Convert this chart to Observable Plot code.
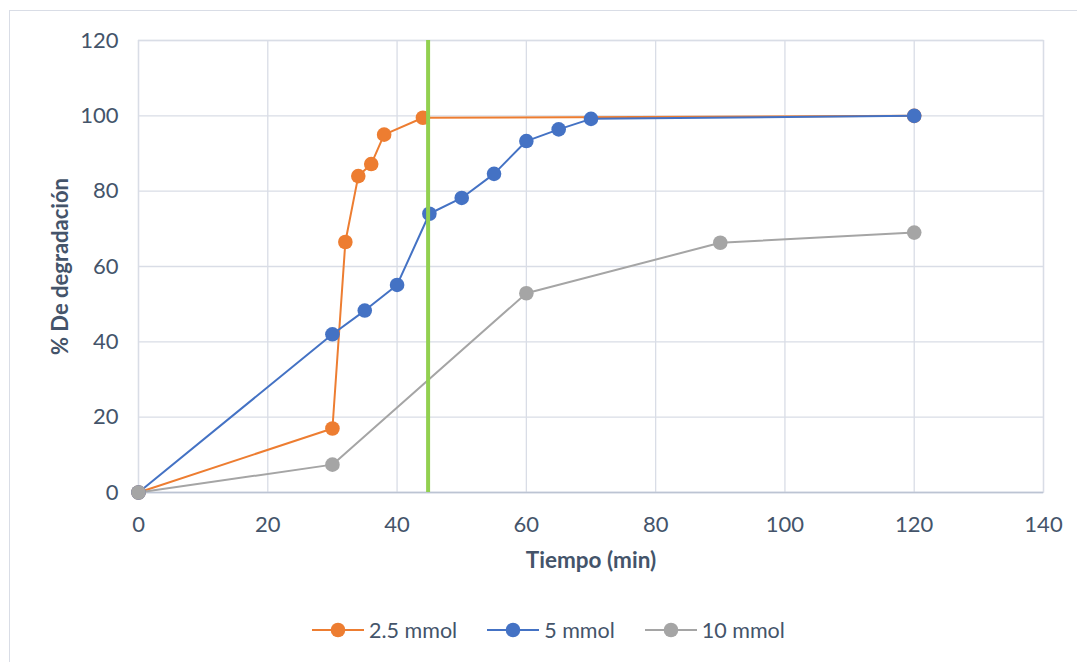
<!DOCTYPE html>
<html>
<head>
<meta charset="utf-8">
<script src="https://cdn.jsdelivr.net/npm/d3@7"></script>
<script src="https://cdn.jsdelivr.net/npm/@observablehq/plot@0.6"></script>
<style>
  html, body { margin: 0; padding: 0; background: #fff; }
  #wrap { position: relative; width: 1077px; height: 662px; overflow: hidden; font-family: Lato, "Open Sans", sans-serif; }
  #border { position: absolute; left: 9px; top: 10px; width: 1200px; height: 800px; border: 1px solid #d9dde6; box-sizing: border-box; }
  #chart { position: absolute; left: 0; top: 0; }
  #legend { position: absolute; left: 312px; top: 617px; display: flex; align-items: center; gap: 30px; color: #44546a; font-size: 21.5px; }
  .item { display: flex; align-items: center; gap: 5px; }
  .item svg { display: block; }
</style>
</head>
<body>
<div id="wrap">
  <div id="border"></div>
  <div id="chart"></div>
  <div id="legend"></div>
</div>
<script>
// Series names and colours
const seriesNames = ["2.5 mmol", "5 mmol", "10 mmol"];
const seriesColors = ["#ED7D31", "#4472C4", "#A5A5A5"];

// 2.5 mmol
const time25 = [0, 30, 32, 34, 36, 38, 44, 120];
const deg25 = [0, 17, 66.5, 84, 87.2, 95, 99.5, 100];

// 5 mmol
const time5 = [0, 30, 35, 40, 45, 50, 55, 60, 65, 70, 120];
const deg5 = [0, 42, 48.3, 55.1, 74, 78.2, 84.6, 93.3, 96.4, 99.2, 100];

// 10 mmol
const time10 = [0, 30, 60, 90, 120];
const deg10 = [0, 7.4, 52.9, 66.3, 69];

// Reference time marked with a vertical line
const markerTime = [44.8];

const xTicks = [0, 20, 40, 60, 80, 100, 120, 140];
const yTicks = [0, 20, 40, 60, 80, 100, 120];

const xLabel = "Tiempo (min)";
const yLabel = "% De degradación";

const seriesX = [time25, time5, time10];
const seriesY = [deg25, deg5, deg10];
const rows = seriesNames.flatMap((name, i) =>
  seriesX[i].map((t, j) => ({series: name, t, v: seriesY[i][j]}))
);

const textColor = "#44546a";
const gridColor = "#d9dde6";

const chart = Plot.plot({
  width: 1077,
  height: 580,
  marginTop: 40,
  marginLeft: 138,
  marginRight: 34,
  marginBottom: 88,
  style: {fontFamily: "Lato, 'Open Sans', sans-serif", fontSize: "22px", color: textColor, background: "transparent", overflow: "visible"},
  x: {domain: [0, 140]},
  y: {domain: [0, 120]},
  color: {domain: seriesNames, range: seriesColors},
  marks: [
    Plot.gridX(xTicks, {stroke: gridColor, strokeOpacity: 1, strokeWidth: 1.3}),
    Plot.gridY(yTicks, {stroke: gridColor, strokeOpacity: 1, strokeWidth: 1.3}),
    Plot.frame({stroke: gridColor, strokeWidth: 1.3}),
    Plot.ruleY([0], {stroke: "#bcc4d3", strokeWidth: 1.5}),
    Plot.axisX({ticks: xTicks, tickSize: 0, tickPadding: 24, label: null, fill: textColor}),
    Plot.axisY({ticks: yTicks, tickSize: 0, tickPadding: 20, label: null, fill: textColor}),
    Plot.line(rows, {x: "t", y: "v", z: "series", stroke: "series", strokeWidth: 2}),
    Plot.dot(rows, {x: "t", y: "v", fill: "series", r: 7.3, stroke: "series", strokeWidth: 0}),
    Plot.ruleX(markerTime, {stroke: "#92D050", strokeWidth: 4}),
    Plot.text([xLabel], {frameAnchor: "bottom", lineAnchor: "middle", textAnchor: "middle", dy: 68, fill: textColor, fontWeight: "bold", fontSize: 22.5}),
    Plot.text([yLabel], {frameAnchor: "left", textAnchor: "middle", lineAnchor: "middle", dx: -78, rotate: -90, fill: textColor, fontWeight: "bold", fontSize: 22})
  ]
});
document.getElementById("chart").appendChild(chart);

// Legend: line with a centred dot, followed by the series name
const legend = document.getElementById("legend");
seriesNames.forEach((name, i) => {
  const item = document.createElement("div");
  item.className = "item";
  const c = seriesColors[i];
  item.innerHTML = `<svg width="52" height="16"><line x1="0" y1="8" x2="52" y2="8" stroke="${c}" stroke-width="2"/><circle cx="26" cy="8" r="7.3" fill="${c}"/></svg><span>${name}</span>`;
  legend.appendChild(item);
});
</script>
</body>
</html>
